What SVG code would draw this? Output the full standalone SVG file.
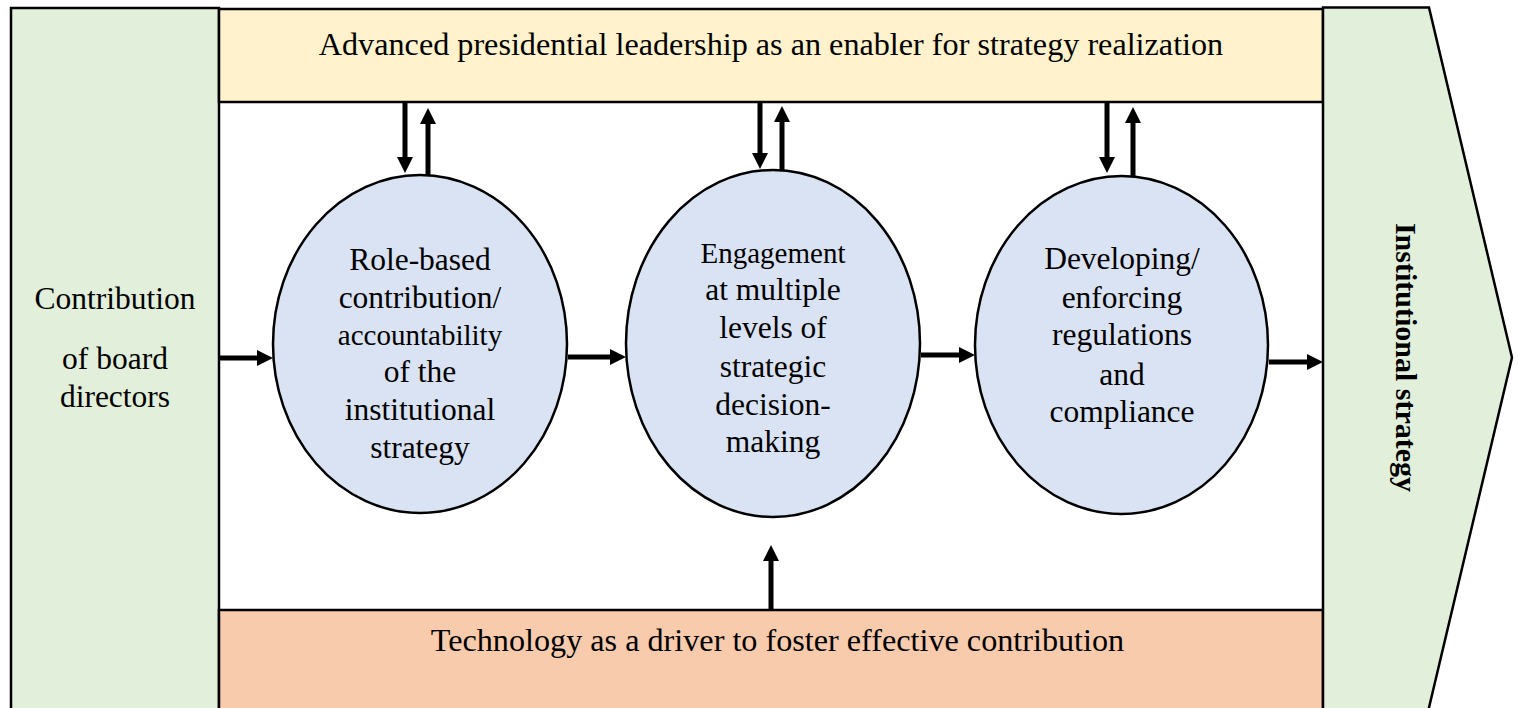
<svg xmlns="http://www.w3.org/2000/svg" width="1518" height="708" viewBox="0 0 1518 708">
  <style>
    .box { stroke: #000; stroke-width: 2.5; }
    .txt { font-family: "Liberation Serif", "Times New Roman", serif; font-size: 31.5px; fill: #000; text-anchor: middle; }
    .band { font-size: 32.2px; }
    .small { font-size: 29px; }
    .bold { font-weight: bold; font-size: 30px; }
    .link { stroke: #000; stroke-width: 5; fill: none; marker-end: url(#head); }
  </style>
  <defs>
    <marker id="head" markerUnits="userSpaceOnUse" markerWidth="16" markerHeight="16" refX="0" refY="8" orient="auto">
      <path d="M0,0 L16,8 L0,16 z" fill="#000"/>
    </marker>
  </defs>

  <rect x="0" y="0" width="1518" height="708" fill="#fff"/>

  <!-- left column: board directors -->
  <g id="board-directors">
    <rect class="box" x="11" y="8" width="208" height="720" fill="#E2EFDA"/>
    <text class="txt" x="115" y="309">Contribution</text>
    <text class="txt" x="115" y="369">of board</text>
    <text class="txt" x="115" y="407">directors</text>
  </g>

  <!-- top band: presidential leadership -->
  <g id="leadership">
    <rect class="box" x="219" y="9" width="1104" height="93" fill="#FFF2CC"/>
    <text class="txt band" x="771" y="55">Advanced presidential leadership as an enabler for strategy realization</text>
  </g>

  <!-- bottom band: technology -->
  <g id="technology">
    <rect class="box" x="219" y="610" width="1104" height="120" fill="#F8CBAD"/>
    <text class="txt band" x="777.5" y="651">Technology as a driver to foster effective contribution</text>
  </g>

  <!-- right chevron: institutional strategy -->
  <g id="institutional-strategy">
    <polygon class="box" points="1323,7.5 1429,7.5 1512,357.5 1427,716 1323,716" fill="#E2EFDA"/>
    <text class="txt bold" transform="translate(1396,357.5) rotate(90)">Institutional strategy</text>
  </g>

  <!-- process stages -->
  <g id="role-based">
    <ellipse class="box" cx="420" cy="344" rx="147" ry="169" fill="#DAE3F3"/>
    <text class="txt" x="420" y="270">Role-based</text>
    <text class="txt" x="420" y="308">contribution/</text>
    <text class="txt small" x="420" y="345">accountability</text>
    <text class="txt" x="420" y="382">of the</text>
    <text class="txt" x="420" y="420">institutional</text>
    <text class="txt" x="420" y="458">strategy</text>
  </g>

  <g id="engagement">
    <ellipse class="box" cx="773" cy="343.5" rx="147" ry="173.5" fill="#DAE3F3"/>
    <text class="txt small" x="773" y="263">Engagement</text>
    <text class="txt" x="773" y="300">at multiple</text>
    <text class="txt" x="773" y="338">levels of</text>
    <text class="txt" x="773" y="377">strategic</text>
    <text class="txt" x="773" y="415">decision-</text>
    <text class="txt" x="773" y="452">making</text>
  </g>

  <g id="regulations">
    <ellipse class="box" cx="1121.5" cy="345" rx="146.5" ry="169" fill="#DAE3F3"/>
    <text class="txt" x="1122" y="269">Developing/</text>
    <text class="txt" x="1122" y="308">enforcing</text>
    <text class="txt" x="1122" y="345">regulations</text>
    <text class="txt" x="1122" y="385">and</text>
    <text class="txt" x="1122" y="422">compliance</text>
  </g>

  <!-- connectors -->
  <g id="connectors">
    <!-- horizontal flow -->
    <line class="link" x1="220" y1="358" x2="257" y2="358"/>
    <line class="link" x1="568" y1="357" x2="610" y2="357"/>
    <line class="link" x1="921" y1="355" x2="959" y2="355"/>
    <line class="link" x1="1269" y1="362" x2="1307" y2="362"/>
    <!-- leadership exchange -->
    <line class="link" x1="405" y1="102" x2="405" y2="157"/>
    <line class="link" x1="428" y1="175" x2="428" y2="124"/>
    <line class="link" x1="760" y1="102" x2="760" y2="153"/>
    <line class="link" x1="782" y1="170" x2="782" y2="122"/>
    <line class="link" x1="1107" y1="102" x2="1107" y2="157"/>
    <line class="link" x1="1133" y1="176" x2="1133" y2="123"/>
    <!-- technology support -->
    <line class="link" x1="771" y1="610" x2="771" y2="561"/>
  </g>
</svg>
